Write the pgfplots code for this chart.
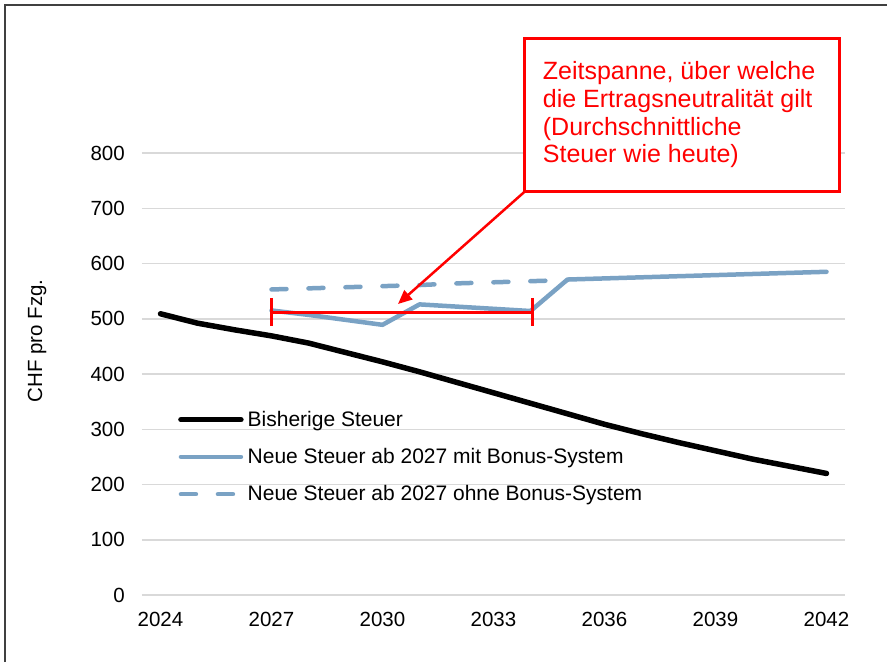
\documentclass[border=0pt]{standalone}
\usepackage{fontspec}
\setmainfont{Liberation Sans}
\usepackage{pgfplots}
\pgfplotsset{compat=1.18}
\usetikzlibrary{arrows.meta}
\definecolor{steuerblau}{RGB}{122,162,196}
\definecolor{rasterGrau}{RGB}{217,217,217}

\pgfplotstableread{
jahr wert
2024 509
2025 492
2026 480
2027 469
2028 456
2029 439
2030 422
2031 404
2032 385
2033 366
2034 347
2035 328
2036 309
2037 292
2038 276
2039 261
2040 246
2041 233
2042 220
}\bisher

\pgfplotstableread{
jahr wert
2027 515
2028 507
2029 498
2030 489
2031 526
2032 522
2033 518
2034 514
2035 571
2036 573
2037 575
2038 577
2039 579
2040 581
2041 583
2042 585
}\mitbonus

\pgfplotstableread{
jahr wert
2027 553
2028 555
2029 557
2030 559
2031 561
2032 564
2033 566
2034 568
2035 570
}\ohnebonus

\begin{document}
\begin{tikzpicture}
\useasboundingbox (0,0) rectangle (887pt,662pt);
% Rahmen links und oben
\draw[color={rgb,255:red,64;green,64;blue,64}, line width=1.3pt] (5pt,0pt) -- (5pt,657pt) -- (887pt,657pt);

\begin{axis}[
    at={(142pt,67pt)}, anchor=south west,
    width=703pt, height=442pt, scale only axis,
    xmin=2023.5, xmax=2042.5,
    ymin=0, ymax=800,
    xtick={2024,2027,...,2042},
    ytick={0,100,...,800},
    axis line style={draw=none},
    ymajorgrids=true,
    grid style={rasterGrau, line width=1.5pt},
    major tick length=0pt,
    /pgf/number format/1000 sep={},
    /pgf/number format/assume math mode=true,
    ticklabel style={font=\fontsize{20.5}{24}\selectfont},
    yticklabel style={anchor=east, inner xsep=0pt, xshift=-17pt},
    xticklabel style={anchor=north, inner ysep=0pt, yshift=-17pt},
    clip=false,
    legend cell align=left,
    legend image code/.code={\draw[#1] (0pt,0pt) -- (60pt,0pt);},
    legend style={at={(0.0512,0.416)}, anchor=north west, draw=none, fill=none,
        inner sep=0pt, row sep=20.5pt, font=\fontsize{21}{24}\selectfont,
        nodes={inner xsep=4pt, inner ysep=0pt}},
]
\addplot[black, line width=5.5pt, line cap=round, line join=round] table[x=jahr, y=wert] {\bisher};
\addlegendentry{Bisherige Steuer}
\addplot[steuerblau, line width=4.5pt, line cap=round, line join=round] table[x=jahr, y=wert] {\mitbonus};
\addlegendentry{Neue Steuer ab 2027 mit Bonus-System}
\addplot[steuerblau, line width=4.5pt, line cap=round, dash pattern=on 15pt off 22pt] table[x=jahr, y=wert] {\ohnebonus};
\addlegendentry{Neue Steuer ab 2027 ohne Bonus-System}

% Klammer: Zeitspanne der Ertragsneutralitaet
\draw[red, line width=3pt] (axis cs:2027,511) -- (axis cs:2034.05,511);
\draw[red, line width=3pt] (axis cs:2027,538) -- (axis cs:2027,486);
\draw[red, line width=3pt] (axis cs:2034.05,538) -- (axis cs:2034.05,486);
\end{axis}

% Hinweiskasten mit Pfeil
\draw[red, line width=3pt, fill=white] (524.3pt,623pt) rectangle (839.5pt,470pt);
\node[anchor=north west, inner sep=0pt, align=left, text=red,
      font=\fontsize{25}{27.7}\selectfont] at (542.7pt,600.5pt)
  {Zeitspanne, über welche\\die Ertragsneutralität gilt\\(Durchschnittliche\\Steuer wie heute)};
\draw[red, line width=2.5pt, -{Triangle[length=14pt,width=12pt]}] (524.3pt,470pt) -- (398pt,358pt);

% y-Achsentitel
\node[rotate=90, font=\fontsize{20.5}{24}\selectfont] at (37pt,321pt) {CHF pro Fzg.};
\end{tikzpicture}
\end{document}
